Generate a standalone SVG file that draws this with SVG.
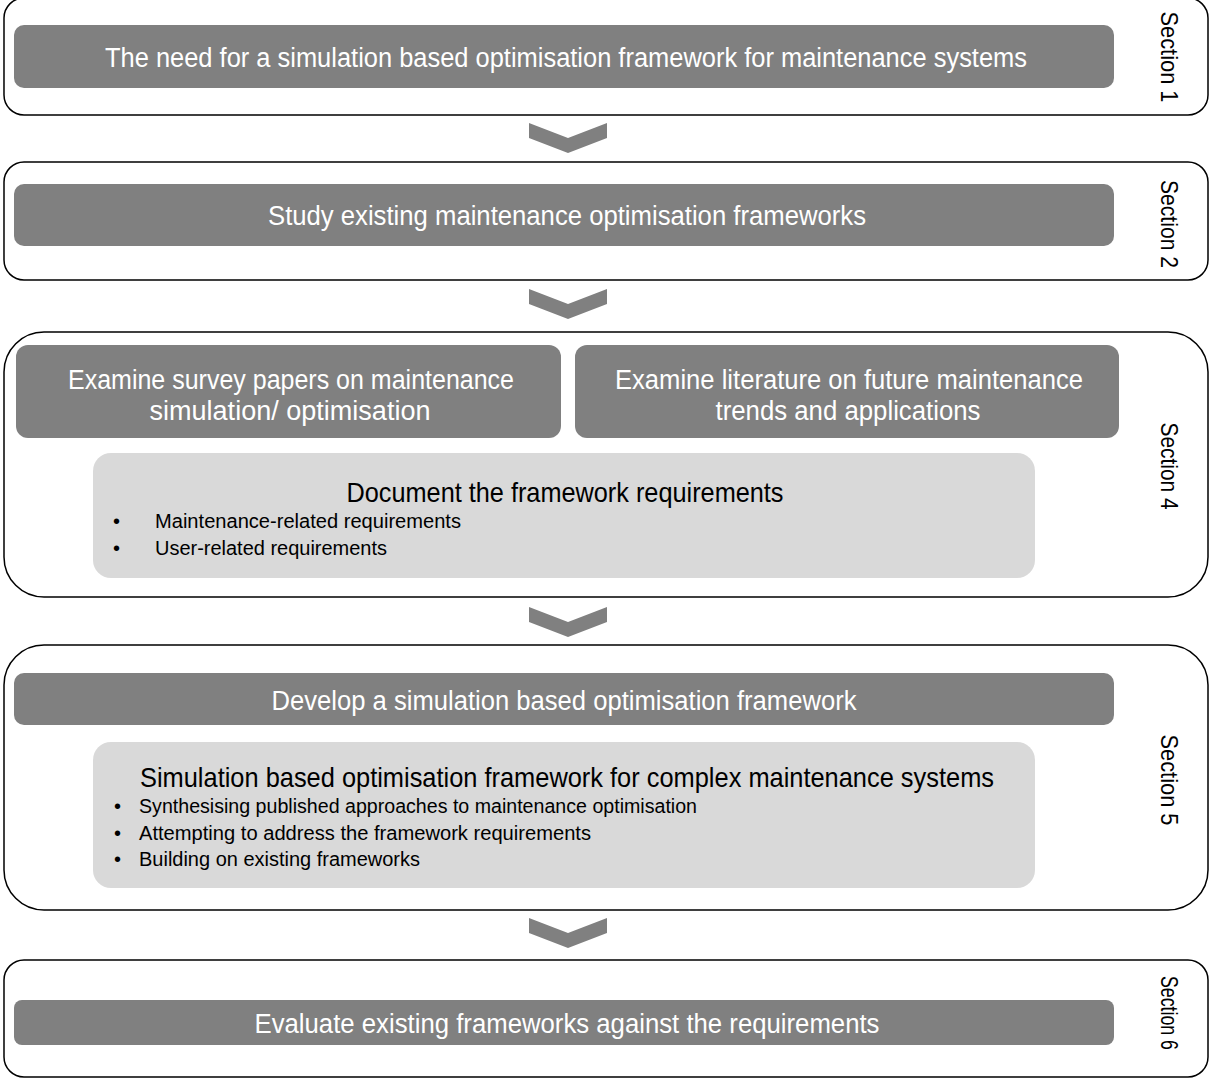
<svg xmlns="http://www.w3.org/2000/svg" width="1212" height="1079" viewBox="0 0 1212 1079">
<style>
.outer{fill:#fff;stroke:#000;stroke-width:1.5}
.dark{fill:#808080}
.light{fill:#d9d9d9}
.wt{font-family:"Liberation Sans",Arial,sans-serif;font-size:27px;fill:#fff;text-anchor:middle}
.bt{font-family:"Liberation Sans",Arial,sans-serif;font-size:28px;fill:#000;text-anchor:middle}
.bl{font-family:"Liberation Sans",Arial,sans-serif;font-size:20px;fill:#000}
.sec{font-family:"Liberation Sans",Arial,sans-serif;font-size:24px;fill:#000;text-anchor:middle;dominant-baseline:central}
.chev{fill:#808080}
</style>
<g id="section1">
<rect class="outer" x="4" y="-2" width="1204" height="117" rx="20"/>
<rect class="dark" x="14" y="25" width="1100" height="63" rx="10"/>
<text class="wt" x="566" y="67" textLength="922" lengthAdjust="spacingAndGlyphs">The need for a simulation based optimisation framework for maintenance systems</text>
<text class="sec" transform="translate(1169,57) rotate(90)" textLength="91" lengthAdjust="spacingAndGlyphs">Section 1</text>
</g>
<g id="section2">
<rect class="outer" x="4" y="162" width="1204" height="118" rx="20"/>
<rect class="dark" x="14" y="184" width="1100" height="62" rx="10"/>
<text class="wt" x="567" y="225" textLength="598" lengthAdjust="spacingAndGlyphs">Study existing maintenance optimisation frameworks</text>
<text class="sec" transform="translate(1169,224) rotate(90)" textLength="88" lengthAdjust="spacingAndGlyphs">Section 2</text>
</g>
<g id="section4">
<rect class="outer" x="4" y="332" width="1204" height="265" rx="40"/>
<g id="survey">
<rect class="dark" x="16" y="345" width="545" height="93" rx="12"/>
<text class="wt" x="291" y="389" textLength="446" lengthAdjust="spacingAndGlyphs">Examine survey papers on maintenance</text>
<text class="wt" x="290" y="420" textLength="281" lengthAdjust="spacingAndGlyphs">simulation/ optimisation</text>
</g>
<g id="literature">
<rect class="dark" x="575" y="345" width="544" height="93" rx="12"/>
<text class="wt" x="849" y="389" textLength="468" lengthAdjust="spacingAndGlyphs">Examine literature on future maintenance</text>
<text class="wt" x="848" y="420" textLength="265" lengthAdjust="spacingAndGlyphs">trends and applications</text>
</g>
<g id="requirements">
<rect class="light" x="93" y="453" width="942" height="125" rx="18"/>
<text class="bt" x="565" y="502" textLength="437" lengthAdjust="spacingAndGlyphs">Document the framework requirements</text>
<text class="bl" x="113" y="528">•</text>
<text class="bl" x="155" y="528" textLength="306" lengthAdjust="spacingAndGlyphs">Maintenance-related requirements</text>
<text class="bl" x="113" y="555">•</text>
<text class="bl" x="155" y="555" textLength="232" lengthAdjust="spacingAndGlyphs">User-related requirements</text>
</g>
<text class="sec" transform="translate(1169,466) rotate(90)" textLength="87" lengthAdjust="spacingAndGlyphs">Section 4</text>
</g>
<g id="section5">
<rect class="outer" x="4" y="645" width="1204" height="265" rx="40"/>
<rect class="dark" x="14" y="673" width="1100" height="52" rx="10"/>
<text class="wt" x="564" y="710" textLength="585" lengthAdjust="spacingAndGlyphs">Develop a simulation based optimisation framework</text>
<g id="framework">
<rect class="light" x="93" y="742" width="942" height="146" rx="18"/>
<text class="bt" x="567" y="787" textLength="854" lengthAdjust="spacingAndGlyphs">Simulation based optimisation framework for complex maintenance systems</text>
<text class="bl" x="114" y="813">•</text>
<text class="bl" x="139" y="813" textLength="558" lengthAdjust="spacingAndGlyphs">Synthesising published approaches to maintenance optimisation</text>
<text class="bl" x="114" y="840">•</text>
<text class="bl" x="139" y="840" textLength="452" lengthAdjust="spacingAndGlyphs">Attempting to address the framework requirements</text>
<text class="bl" x="114" y="866">•</text>
<text class="bl" x="139" y="866" textLength="281" lengthAdjust="spacingAndGlyphs">Building on existing frameworks</text>
</g>
<text class="sec" transform="translate(1169,780) rotate(90)" textLength="91" lengthAdjust="spacingAndGlyphs">Section 5</text>
</g>
<g id="section6">
<rect class="outer" x="4" y="960" width="1204" height="117" rx="20"/>
<rect class="dark" x="14" y="1000" width="1100" height="45" rx="8"/>
<text class="wt" x="567" y="1033" textLength="625" lengthAdjust="spacingAndGlyphs">Evaluate existing frameworks against the requirements</text>
<text class="sec" transform="translate(1169,1013) rotate(90)" textLength="74" lengthAdjust="spacingAndGlyphs">Section 6</text>
</g>
<g id="connectors">
<polygon class="chev" points="529,123 568,138 607,123 607,138 568,153 529,138"/>
<polygon class="chev" points="529,289 568,304 607,289 607,304 568,319 529,304"/>
<polygon class="chev" points="529,607 568,622 607,607 607,622 568,637 529,622"/>
<polygon class="chev" points="529,918 568,933 607,918 607,933 568,948 529,933"/>
</g>
</svg>
